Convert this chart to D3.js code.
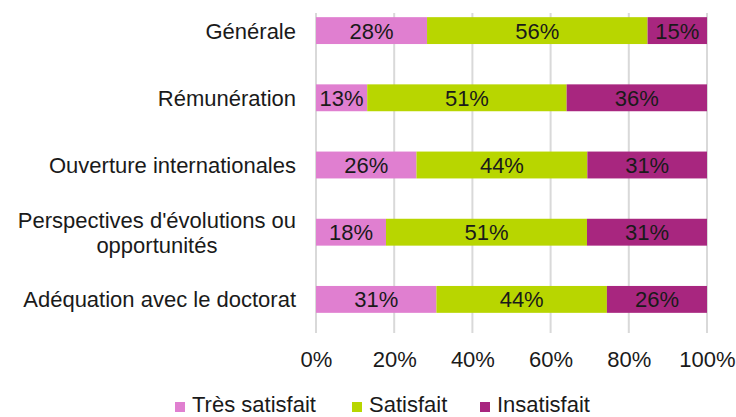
<!DOCTYPE html>
<html><head><meta charset="utf-8">
<script src="https://cdn.jsdelivr.net/npm/d3@7"></script>
<style>body{margin:0;background:#fff}svg{display:block}text{font-family:"Liberation Sans",Arial,sans-serif;fill:#1a1a1a}</style>
</head><body><svg id="c" width="736" height="417"></svg>
<script>
const categories = ["Générale","Rémunération","Ouverture internationales","Perspectives d'évolutions ou opportunités","Adéquation avec le doctorat"];
const categoryLines = [["Générale"],["Rémunération"],["Ouverture internationales"],["Perspectives d'évolutions ou","opportunités"],["Adéquation avec le doctorat"]];
const seriesNames = ["Très satisfait","Satisfait","Insatisfait"];
const tresSatisfait = [28.4,13.1,25.7,17.9,30.8];
const satisfait = [56.4,51.0,43.7,51.4,43.6];
const insatisfait = [15.2,35.9,30.6,30.7,25.6];
const tickValues = [0,20,40,60,80,100];
const colors = ["#e07fd0","#b8d600","#a8267f"];

const svg = d3.select("#c");
const x = d3.scaleLinear().domain([0,100]).range([316,707]);
const y = d3.scaleBand().domain(categories).range([-3,333]).paddingInner(0.6).paddingOuter(0.3);
const fs = 22;

// gridlines
svg.append("g").selectAll("line").data(tickValues).join("line")
  .attr("x1",d=>x(d)).attr("x2",d=>x(d)).attr("y1",13).attr("y2",333)
  .attr("stroke","#d9d9d9").attr("stroke-width",2);

const rows = categories.map((c,i)=>({cat:c,"Très satisfait":tresSatisfait[i],"Satisfait":satisfait[i],"Insatisfait":insatisfait[i]}));
const stack = d3.stack().keys(seriesNames)(rows);

const g = svg.append("g");
stack.forEach((s,si)=>{
  g.append("g").selectAll("rect").data(s).join("rect")
    .attr("x",d=>x(d[0])).attr("width",d=>x(d[1])-x(d[0]))
    .attr("y",d=>y(d.data.cat)).attr("height",y.bandwidth())
    .attr("fill",colors[si]);
  g.append("g").selectAll("text").data(s).join("text")
    .attr("x",d=>(x(d[0])+x(d[1]))/2).attr("y",d=>y(d.data.cat)+y.bandwidth()/2+8)
    .attr("text-anchor","middle").style("font-size",fs+"px")
    .text(d=>Math.round(d[1]-d[0])+"%");
});

// category labels
categories.forEach((c,i)=>{
  const lines = categoryLines[i];
  const cy = y(c)+y.bandwidth()/2;
  if(lines.length===1){
    svg.append("text").attr("x",296).attr("y",cy+8).attr("text-anchor","end")
      .style("font-size",fs+"px").text(lines[0]);
  } else {
    const t = svg.append("text").attr("text-anchor","middle").style("font-size",fs+"px");
    const w = 286;
    lines.forEach((l,k)=>{
      t.append("tspan").attr("x",296-w/2).attr("y",cy+8+(k-0.5)*25).text(l);
    });
    const bb = t.node().getBBox();
    const shift = 296-(bb.x+bb.width);
    t.selectAll("tspan").attr("x",296-w/2+shift);
  }
});

// x axis
const ax = svg.append("g").attr("transform","translate(0,333)")
  .call(d3.axisBottom(x).tickValues(tickValues).tickFormat(d=>d+"%").tickSize(0).tickPadding(18));
ax.select(".domain").remove();
ax.selectAll("text").style("font-size",fs+"px").attr("fill","#1a1a1a").style("font-family",'"Liberation Sans",Arial,sans-serif');

// legend
const legX = [175,352,480];
seriesNames.forEach((n,i)=>{
  svg.append("rect").attr("x",legX[i]).attr("y",402).attr("width",10).attr("height",10).attr("fill",colors[i]);
  svg.append("text").attr("x",legX[i]+17).attr("y",412).style("font-size",fs+"px").text(n);
});
</script></body></html>
